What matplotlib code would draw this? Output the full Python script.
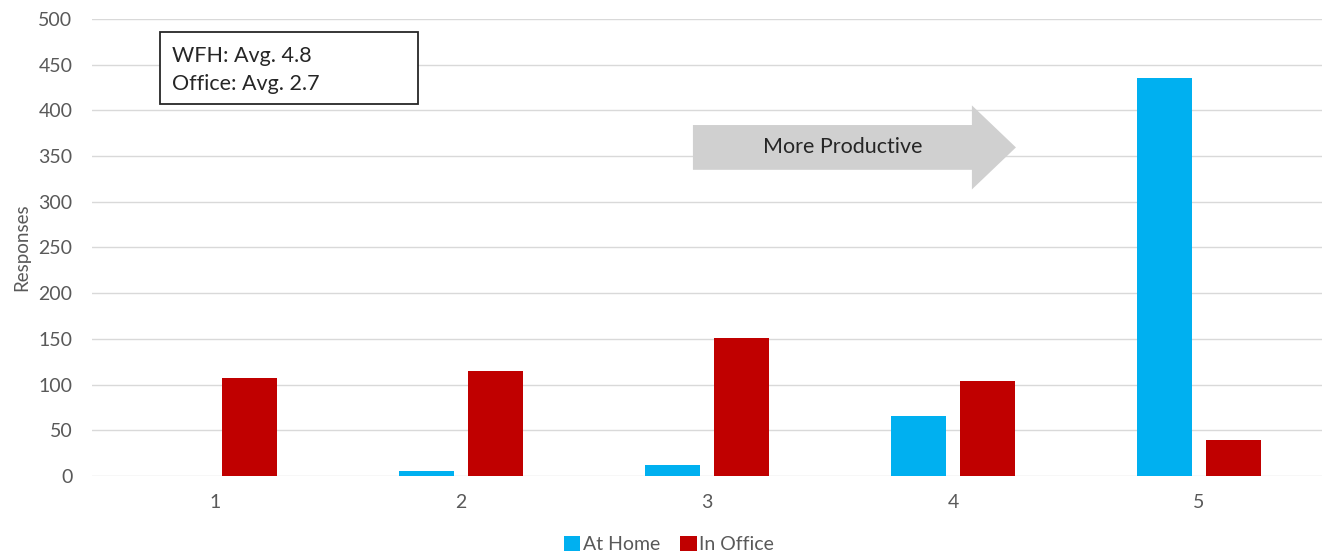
import numpy as np
import matplotlib
matplotlib.use("Agg")
from matplotlib import pyplot as plt
import matplotlib.patches as mpatches

plt.rcParams['font.family'] = ['Lato', 'DejaVu Sans']

categories = [1, 2, 3, 4, 5]
at_home = [0, 5, 12, 66, 435]
in_office = [107, 115, 151, 104, 39]
y_ticks = [0, 50, 100, 150, 200, 250, 300, 350, 400, 450, 500]

grey_text = '#595959'
blue = '#00B0F0'
red = '#C00000'

fig = plt.figure(figsize=(13.25, 5.54), dpi=100)
ax = fig.add_axes([0.0694, 0.1408, 0.9283, 0.8249])

ind = np.array(categories)
width = 0.224
offset = 0.14

ax.bar(ind - offset, at_home, width, color=blue, label='At Home', zorder=3)
ax.bar(ind + offset, in_office, width, color=red, label='In Office', zorder=3)

ax.set_xlim(0.5, 5.5)
ax.set_ylim(0, 500)
ax.set_xticks(ind)
ax.set_xticklabels([str(c) for c in categories])
ax.set_yticks(y_ticks)
ax.grid(axis='y', color='#d9d9d9', linewidth=1, zorder=0)
for side in ['top', 'right', 'left', 'bottom']:
    ax.spines[side].set_visible(False)
ax.tick_params(length=0, labelsize=14, colors=grey_text)
ax.tick_params(axis='y', pad=14)
ax.tick_params(axis='x', pad=13)
ax.set_ylabel('Responses', fontsize=13.5, color=grey_text, labelpad=6)

# averages box
box = mpatches.Rectangle((0.776, 407), 1.049, 79, facecolor='white', edgecolor='#262626',
                         linewidth=1.3, zorder=5)
ax.add_patch(box)
ax.text(0.825, 460, 'WFH: Avg. 4.8', fontsize=15.5, color='#262626',
        va='center', ha='left', zorder=6)
ax.text(0.825, 429, 'Office: Avg. 2.7', fontsize=15.5, color='#262626',
        va='center', ha='left', zorder=6)

# "more productive" arrow
arrow = mpatches.FancyArrow(2.943, 359.5, 1.313, 0, width=49, head_width=92,
                            head_length=0.179, length_includes_head=True,
                            color='#d0d0d0', linewidth=0, zorder=4)
ax.add_patch(arrow)
ax.text(3.553, 359.5, 'More Productive', fontsize=15.5, color='#262626',
        ha='center', va='center', zorder=5)

fig.legend(loc='lower center', bbox_to_anchor=(0.505, -0.03), ncol=2, frameon=False,
           fontsize=14, labelcolor=grey_text, handlelength=0.85, handleheight=0.85,
           handletextpad=0.15, columnspacing=1.0)

fig.savefig('out.png', dpi=100)
